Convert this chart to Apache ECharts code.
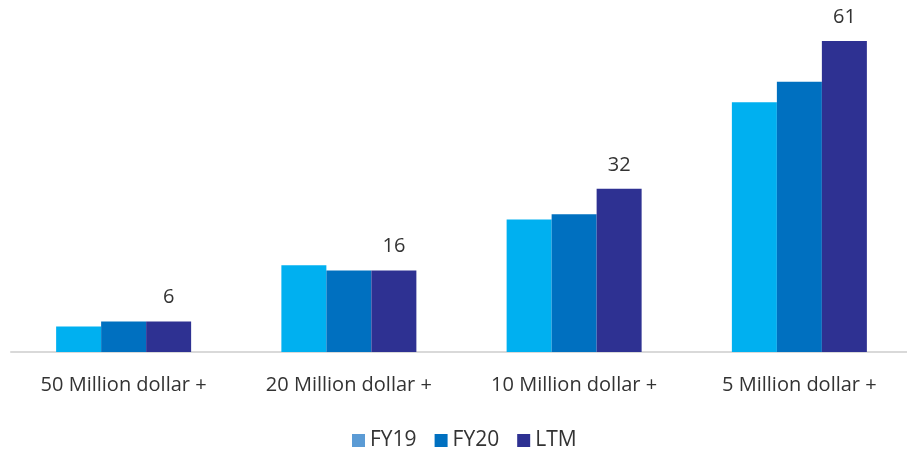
<!DOCTYPE html>
<html>
<head>
<meta charset="utf-8">
<script src="https://cdn.jsdelivr.net/npm/echarts@6/dist/echarts.min.js"></script>
<style>
  html, body { margin: 0; padding: 0; background: #fff; }
  #chart { width: 907px; height: 450px; }
</style>
</head>
<body>
<div id="chart"></div>
<script>
const categories = ['50 Million dollar +', '20 Million dollar +', '10 Million dollar +', '5 Million dollar +']
const fy19 = [5, 17, 26, 49]
const fy20 = [6, 16, 27, 53]
const ltm = [6, 16, 32, 61]

const chart = echarts.init(document.getElementById('chart'))

const font = '"Open Sans", sans-serif'

const option = {
  textStyle: { fontFamily: font },
  grid: { left: 11, width: 901, top: 41, height: 311, outerBoundsMode: 'none', containLabel: false },
  legend: {
    top: 425,
    left: 347,
    icon: 'rect',
    itemWidth: 13,
    itemHeight: 13,
    itemGap: 18,
    textStyle: { fontSize: 21, color: '#333', fontFamily: font },
    data: [
      { name: 'FY19', itemStyle: { color: '#5B9BD5' } },
      { name: 'FY20' },
      { name: 'LTM' }
    ]
  },
  xAxis: {
    type: 'category',
    data: categories,
    axisTick: { show: false },
    axisLine: { lineStyle: { color: '#d9d9d9', width: 2 } },
    axisLabel: { fontSize: 20, color: '#333', margin: 23, fontFamily: font }
  },
  yAxis: {
    type: 'value',
    min: 0,
    max: 61,
    show: false,
    splitLine: { show: false }
  },
  series: [
    {
      name: 'FY19',
      type: 'bar',
      barWidth: 45,
      barGap: 0,
      itemStyle: { color: '#00B0F0' },
      data: fy19
    },
    {
      name: 'FY20',
      type: 'bar',
      barWidth: 45,
      barGap: 0,
      itemStyle: { color: '#0070C0' },
      data: fy20
    },
    {
      name: 'LTM',
      type: 'bar',
      barWidth: 45,
      barGap: 0,
      itemStyle: { color: '#2E3192' },
      label: {
        show: true,
        position: 'top',
        distance: 14,
        fontSize: 20,
        color: '#333',
        fontFamily: font
      },
      data: ltm
    }
  ]
}

chart.setOption(option)
</script>
</body>
</html>
